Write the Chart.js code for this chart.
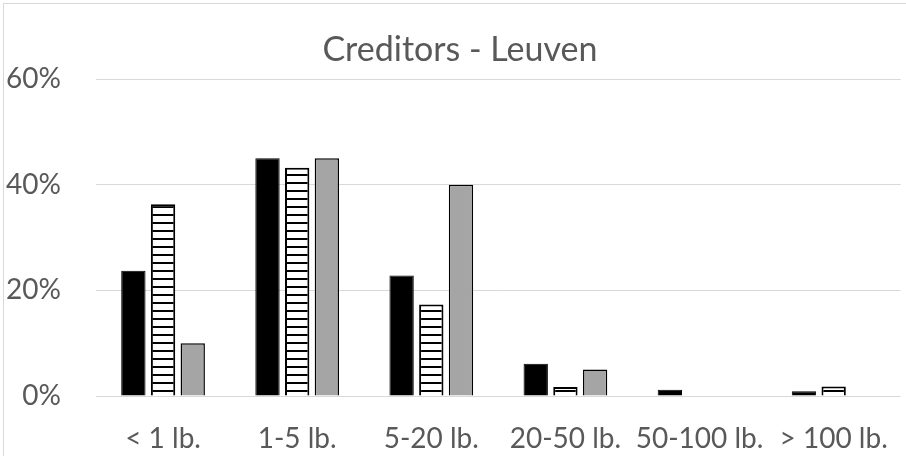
<!DOCTYPE html>
<html>
<head>
<meta charset="utf-8">
<script src="https://cdn.jsdelivr.net/npm/chart.js@4.4.1/dist/chart.umd.min.js"></script>
<style>
  html, body { margin: 0; padding: 0; background: #fff; overflow: hidden; }
  #wrap { position: relative; width: 906px; height: 456px; }
</style>
</head>
<body>
<div id="wrap"><canvas id="chart" width="906" height="456"></canvas></div>
<script>
// Size classes of debts owed to creditors in Leuven
const categories = ['< 1 lb.', '1-5 lb.', '5-20 lb.', '20-50 lb.', '50-100 lb.', '> 100 lb.'];
const seriesNames = ['Group 1', 'Group 2', 'Group 3'];
const seriesSolid = [23.7, 45, 22.8, 6.1, 1.2, 0.9];
const seriesHatched = [36.3, 43.2, 17.3, 1.7, 0, 1.8];
const seriesGray = [10, 45, 40, 5, 0, 0];
const yTicks = [0, 20, 40, 60];
const chartTitle = 'Creditors - Leuven';

const FONT = 'Lato, "Open Sans", sans-serif';
const TEXT = '#595959';

// Horizontal line hatch used to fill the middle series
function hatch() {
  const c = document.createElement('canvas');
  c.width = 8; c.height = 8;
  const g = c.getContext('2d');
  g.fillStyle = '#ffffff';
  g.fillRect(0, 0, 8, 8);
  g.fillStyle = '#000000';
  g.fillRect(0, 6, 8, 2);
  return g.createPattern(c, 'repeat');
}

// Frame around the whole chart and the centred title
const framePlugin = {
  id: 'frame',
  beforeDraw(chart) {
    const ctx = chart.ctx;
    ctx.save();
    ctx.strokeStyle = '#d9d9d9';
    ctx.lineWidth = 1;
    ctx.strokeRect(3.5, 3.5, 920, 470);
    ctx.restore();
  },
  afterDraw(chart) {
    const ctx = chart.ctx;
    ctx.save();
    ctx.fillStyle = TEXT;
    ctx.font = '34px ' + FONT;
    ctx.textAlign = 'center';
    ctx.textBaseline = 'middle';
    ctx.fillText(chartTitle, 460, 50);
    ctx.restore();
  }
};

new Chart(document.getElementById('chart'), {
  type: 'bar',
  data: {
    labels: categories,
    datasets: [
      { label: seriesNames[0], data: seriesSolid, backgroundColor: '#000000', borderColor: '#000000', borderWidth: 1 },
      { label: seriesNames[1], data: seriesHatched, backgroundColor: hatch(), borderColor: '#000000', borderWidth: 2 },
      { label: seriesNames[2], data: seriesGray, backgroundColor: '#a5a5a5', borderColor: '#000000', borderWidth: 1.5 }
    ]
  },
  options: {
    responsive: false,
    animation: false,
    devicePixelRatio: 1,
    layout: { padding: { top: 79, right: 3, left: 0, bottom: 0 } },
    datasets: { bar: { categoryPercentage: 0.664, barPercentage: 0.82 } },
    plugins: { legend: { display: false }, tooltip: { enabled: false }, title: { display: false } },
    scales: {
      x: {
        grid: { display: false },
        border: { display: false },
        ticks: { color: TEXT, font: { family: FONT, size: 28 }, padding: 18, maxRotation: 0, autoSkip: false },
        afterFit(s) { s.height = 60; }
      },
      y: {
        min: 0, max: 60,
        afterBuildTicks(s) { s.ticks = yTicks.map(v => ({ value: v })); },
        grid: { color: '#d9d9d9', lineWidth: 1, drawTicks: false },
        border: { display: false },
        ticks: { color: TEXT, font: { family: FONT, size: 28 }, padding: 35, callback: v => v + '%' },
        afterFit(s) { s.width = 96; }
      }
    }
  },
  plugins: [framePlugin]
});
</script>
</body>
</html>
